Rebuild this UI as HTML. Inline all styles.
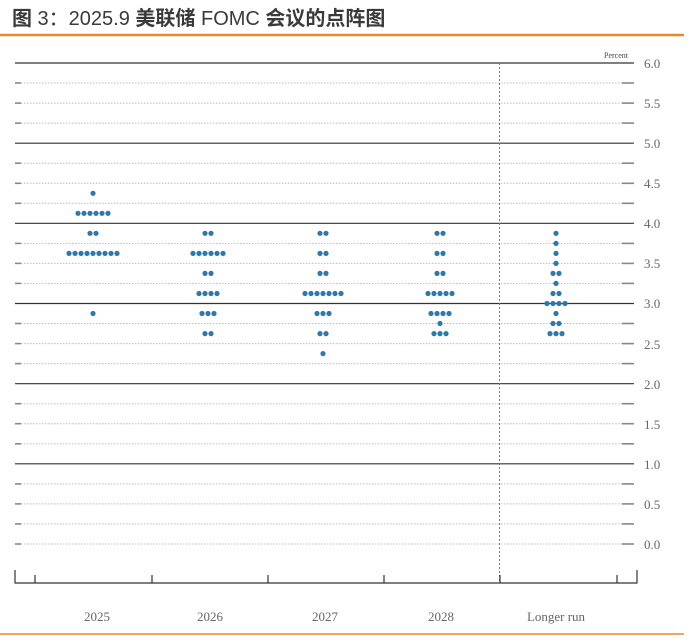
<!DOCTYPE html>
<html><head><meta charset="utf-8"><style>
html,body{margin:0;padding:0;background:#fff;}
body{width:693px;height:637px;overflow:hidden;}
</style></head><body>
<svg width="693" height="637" viewBox="0 0 693 637" xmlns="http://www.w3.org/2000/svg">
<text x="12" y="25" font-family="'Liberation Sans','Noto Sans CJK SC',sans-serif" font-size="20" fill="#3a3a3a"><tspan font-weight="bold">图</tspan> 3：2025.9 <tspan font-weight="bold">美联储</tspan> FOMC <tspan font-weight="bold">会议的点阵图</tspan></text>
<line x1="0" y1="35" x2="684" y2="35" stroke="#e8892e" stroke-width="2.5"/>
<line x1="0" y1="634" x2="684" y2="634" stroke="#e8892e" stroke-width="1.5"/>
<g id="grid">
<g stroke="#333" stroke-width="1.2">
<line x1="15" y1="63" x2="634" y2="63"/>
<line x1="15" y1="143.2" x2="634" y2="143.2"/>
<line x1="15" y1="223.3" x2="634" y2="223.3"/>
<line x1="15" y1="303.5" x2="634" y2="303.5"/>
<line x1="15" y1="383.7" x2="634" y2="383.7"/>
<line x1="15" y1="463.8" x2="634" y2="463.8"/>
</g>
<g stroke="#bbb" stroke-width="1" stroke-dasharray="1.5,1.5">
<line x1="21" y1="83" x2="622" y2="83"/><line x1="21" y1="103.1" x2="622" y2="103.1"/><line x1="21" y1="123.1" x2="622" y2="123.1"/>
<line x1="21" y1="163.2" x2="622" y2="163.2"/><line x1="21" y1="183.3" x2="622" y2="183.3"/><line x1="21" y1="203.3" x2="622" y2="203.3"/>
<line x1="21" y1="243.4" x2="622" y2="243.4"/><line x1="21" y1="263.4" x2="622" y2="263.4"/><line x1="21" y1="283.4" x2="622" y2="283.4"/>
<line x1="21" y1="323.5" x2="622" y2="323.5"/><line x1="21" y1="343.6" x2="622" y2="343.6"/><line x1="21" y1="363.6" x2="622" y2="363.6"/>
<line x1="21" y1="403.7" x2="622" y2="403.7"/><line x1="21" y1="423.7" x2="622" y2="423.7"/><line x1="21" y1="443.8" x2="622" y2="443.8"/>
<line x1="21" y1="483.9" x2="622" y2="483.9"/><line x1="21" y1="503.9" x2="622" y2="503.9"/><line x1="21" y1="523.9" x2="622" y2="523.9"/>
<line x1="21" y1="544" x2="622" y2="544"/>
</g>
<g stroke="#888" stroke-width="1.6">
<line x1="15" y1="83" x2="21" y2="83"/><line x1="622" y1="83" x2="634" y2="83"/>
<line x1="15" y1="103.1" x2="21" y2="103.1"/><line x1="622" y1="103.1" x2="634" y2="103.1"/>
<line x1="15" y1="123.1" x2="21" y2="123.1"/><line x1="622" y1="123.1" x2="634" y2="123.1"/>
<line x1="15" y1="163.2" x2="21" y2="163.2"/><line x1="622" y1="163.2" x2="634" y2="163.2"/>
<line x1="15" y1="183.3" x2="21" y2="183.3"/><line x1="622" y1="183.3" x2="634" y2="183.3"/>
<line x1="15" y1="203.3" x2="21" y2="203.3"/><line x1="622" y1="203.3" x2="634" y2="203.3"/>
<line x1="15" y1="243.4" x2="21" y2="243.4"/><line x1="622" y1="243.4" x2="634" y2="243.4"/>
<line x1="15" y1="263.4" x2="21" y2="263.4"/><line x1="622" y1="263.4" x2="634" y2="263.4"/>
<line x1="15" y1="283.4" x2="21" y2="283.4"/><line x1="622" y1="283.4" x2="634" y2="283.4"/>
<line x1="15" y1="323.5" x2="21" y2="323.5"/><line x1="622" y1="323.5" x2="634" y2="323.5"/>
<line x1="15" y1="343.6" x2="21" y2="343.6"/><line x1="622" y1="343.6" x2="634" y2="343.6"/>
<line x1="15" y1="363.6" x2="21" y2="363.6"/><line x1="622" y1="363.6" x2="634" y2="363.6"/>
<line x1="15" y1="403.7" x2="21" y2="403.7"/><line x1="622" y1="403.7" x2="634" y2="403.7"/>
<line x1="15" y1="423.7" x2="21" y2="423.7"/><line x1="622" y1="423.7" x2="634" y2="423.7"/>
<line x1="15" y1="443.8" x2="21" y2="443.8"/><line x1="622" y1="443.8" x2="634" y2="443.8"/>
<line x1="15" y1="483.9" x2="21" y2="483.9"/><line x1="622" y1="483.9" x2="634" y2="483.9"/>
<line x1="15" y1="503.9" x2="21" y2="503.9"/><line x1="622" y1="503.9" x2="634" y2="503.9"/>
<line x1="15" y1="523.9" x2="21" y2="523.9"/><line x1="622" y1="523.9" x2="634" y2="523.9"/>
<line x1="15" y1="544" x2="21" y2="544"/><line x1="622" y1="544" x2="634" y2="544"/>
</g>
</g>
<line x1="499.5" y1="63" x2="499.5" y2="583" stroke="#777" stroke-width="1" stroke-dasharray="2,2"/>
<g font-family="'Liberation Serif',serif" font-size="13" fill="#666">
<text x="604" y="58" font-size="8" fill="#444">Percent</text>
<text x="644" y="68">6.0</text><text x="644" y="108">5.5</text><text x="644" y="148">5.0</text>
<text x="644" y="188">4.5</text><text x="644" y="228">4.0</text><text x="644" y="268">3.5</text>
<text x="644" y="308">3.0</text><text x="644" y="349">2.5</text><text x="644" y="389">2.0</text>
<text x="644" y="429">1.5</text><text x="644" y="469">1.0</text><text x="644" y="509">0.5</text>
<text x="644" y="549">0.0</text>
<text x="97" y="621" text-anchor="middle">2025</text>
<text x="210" y="621" text-anchor="middle">2026</text>
<text x="325" y="621" text-anchor="middle">2027</text>
<text x="441" y="621" text-anchor="middle">2028</text>
<text x="556" y="621" text-anchor="middle">Longer run</text>
</g>
<g stroke="#333" stroke-width="1.2" fill="none">
<path d="M15 570 V583 H637 V570"/>
<line x1="35" y1="583" x2="35" y2="575"/>
<line x1="152" y1="583" x2="152" y2="575"/>
<line x1="268" y1="583" x2="268" y2="575"/>
<line x1="384" y1="583" x2="384" y2="575"/>
<line x1="500" y1="583" x2="500" y2="575"/>
<line x1="617" y1="583" x2="617" y2="575"/>
</g>
<g fill="#2f78aa">
<circle cx="93" cy="193.3" r="2.6"/>
<circle cx="78" cy="213.3" r="2.6"/><circle cx="84" cy="213.3" r="2.6"/><circle cx="90" cy="213.3" r="2.6"/><circle cx="96" cy="213.3" r="2.6"/><circle cx="102" cy="213.3" r="2.6"/><circle cx="108" cy="213.3" r="2.6"/>
<circle cx="90" cy="233.3" r="2.6"/><circle cx="96" cy="233.3" r="2.6"/>
<circle cx="69" cy="253.4" r="2.6"/><circle cx="75" cy="253.4" r="2.6"/><circle cx="81" cy="253.4" r="2.6"/><circle cx="87" cy="253.4" r="2.6"/><circle cx="93" cy="253.4" r="2.6"/><circle cx="99" cy="253.4" r="2.6"/><circle cx="105" cy="253.4" r="2.6"/><circle cx="111" cy="253.4" r="2.6"/><circle cx="117" cy="253.4" r="2.6"/>
<circle cx="93" cy="313.5" r="2.6"/>
<circle cx="205" cy="233.3" r="2.6"/><circle cx="211" cy="233.3" r="2.6"/>
<circle cx="193" cy="253.4" r="2.6"/><circle cx="199" cy="253.4" r="2.6"/><circle cx="205" cy="253.4" r="2.6"/><circle cx="211" cy="253.4" r="2.6"/><circle cx="217" cy="253.4" r="2.6"/><circle cx="223" cy="253.4" r="2.6"/>
<circle cx="205" cy="273.4" r="2.6"/><circle cx="211" cy="273.4" r="2.6"/>
<circle cx="199" cy="293.5" r="2.6"/><circle cx="205" cy="293.5" r="2.6"/><circle cx="211" cy="293.5" r="2.6"/><circle cx="217" cy="293.5" r="2.6"/>
<circle cx="202" cy="313.5" r="2.6"/><circle cx="208" cy="313.5" r="2.6"/><circle cx="214" cy="313.5" r="2.6"/>
<circle cx="205" cy="333.6" r="2.6"/><circle cx="211" cy="333.6" r="2.6"/>
<circle cx="320" cy="233.3" r="2.6"/><circle cx="326" cy="233.3" r="2.6"/>
<circle cx="320" cy="253.4" r="2.6"/><circle cx="326" cy="253.4" r="2.6"/>
<circle cx="320" cy="273.4" r="2.6"/><circle cx="326" cy="273.4" r="2.6"/>
<circle cx="305" cy="293.5" r="2.6"/><circle cx="311" cy="293.5" r="2.6"/><circle cx="317" cy="293.5" r="2.6"/><circle cx="323" cy="293.5" r="2.6"/><circle cx="329" cy="293.5" r="2.6"/><circle cx="335" cy="293.5" r="2.6"/><circle cx="341" cy="293.5" r="2.6"/>
<circle cx="317" cy="313.5" r="2.6"/><circle cx="323" cy="313.5" r="2.6"/><circle cx="329" cy="313.5" r="2.6"/>
<circle cx="320" cy="333.6" r="2.6"/><circle cx="326" cy="333.6" r="2.6"/>
<circle cx="323" cy="353.6" r="2.6"/>
<circle cx="437" cy="233.3" r="2.6"/><circle cx="443" cy="233.3" r="2.6"/>
<circle cx="437" cy="253.4" r="2.6"/><circle cx="443" cy="253.4" r="2.6"/>
<circle cx="437" cy="273.4" r="2.6"/><circle cx="443" cy="273.4" r="2.6"/>
<circle cx="428" cy="293.5" r="2.6"/><circle cx="434" cy="293.5" r="2.6"/><circle cx="440" cy="293.5" r="2.6"/><circle cx="446" cy="293.5" r="2.6"/><circle cx="452" cy="293.5" r="2.6"/>
<circle cx="431" cy="313.5" r="2.6"/><circle cx="437" cy="313.5" r="2.6"/><circle cx="443" cy="313.5" r="2.6"/><circle cx="449" cy="313.5" r="2.6"/>
<circle cx="440" cy="323.5" r="2.6"/>
<circle cx="434" cy="333.6" r="2.6"/><circle cx="440" cy="333.6" r="2.6"/><circle cx="446" cy="333.6" r="2.6"/>
<circle cx="556" cy="233.3" r="2.6"/>
<circle cx="556" cy="243.4" r="2.6"/>
<circle cx="556" cy="253.4" r="2.6"/>
<circle cx="556" cy="263.4" r="2.6"/>
<circle cx="553" cy="273.4" r="2.6"/><circle cx="559" cy="273.4" r="2.6"/>
<circle cx="556" cy="283.4" r="2.6"/>
<circle cx="553" cy="293.5" r="2.6"/><circle cx="559" cy="293.5" r="2.6"/>
<circle cx="547" cy="303.5" r="2.6"/><circle cx="553" cy="303.5" r="2.6"/><circle cx="559" cy="303.5" r="2.6"/><circle cx="565" cy="303.5" r="2.6"/>
<circle cx="556" cy="313.5" r="2.6"/>
<circle cx="553" cy="323.5" r="2.6"/><circle cx="559" cy="323.5" r="2.6"/>
<circle cx="550" cy="333.6" r="2.6"/><circle cx="556" cy="333.6" r="2.6"/><circle cx="562" cy="333.6" r="2.6"/>
</g>
</svg>
</body></html>
